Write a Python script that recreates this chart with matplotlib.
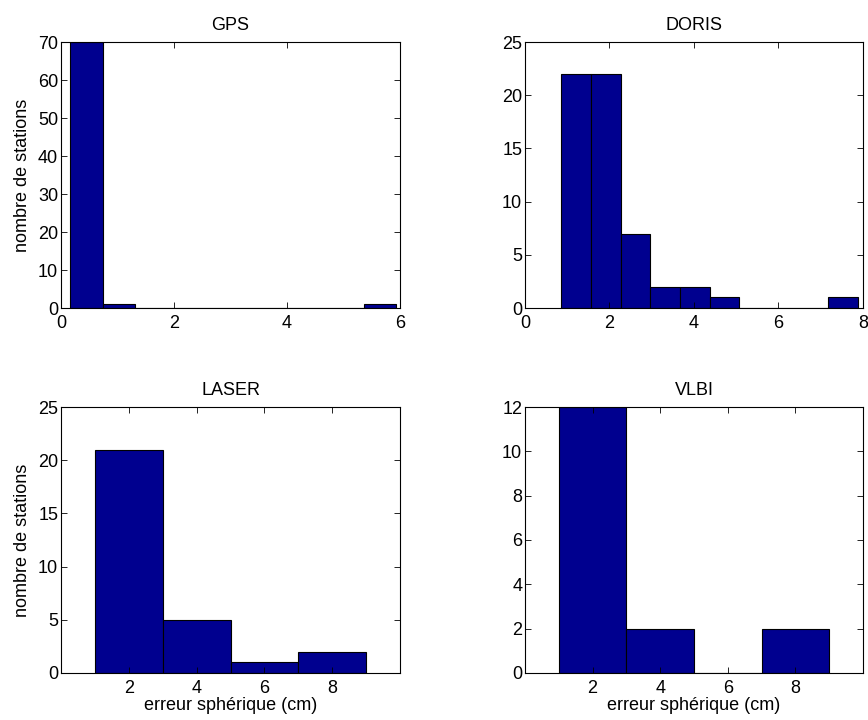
import numpy as np
import matplotlib
matplotlib.use("Agg")
import matplotlib.pyplot as plt

plt.rcParams["font.family"] = ["Liberation Sans", "DejaVu Sans"]
plt.rcParams["font.size"] = 13

# histogram counts
gps_counts = [70, 1, 0, 0, 0, 0, 0, 0, 0, 1]
gps_range = (0.16, 5.93)

doris_counts = [22, 22, 7, 2, 2, 1, 0, 0, 0, 1]
doris_range = (0.86, 7.88)

laser_centers = [2, 4, 6, 8]
laser_counts = [21, 5, 1, 2]

vlbi_centers = [2, 4, 6, 8]
vlbi_counts = [12, 2, 0, 2]

bar_color = "#00008F"

fig = plt.figure(figsize=(8.68, 7.2), dpi=100)
ax_gps = fig.add_axes([0.0703, 0.5722, 0.3906, 0.3694])
ax_doris = fig.add_axes([0.6048, 0.5722, 0.3894, 0.3694])
ax_laser = fig.add_axes([0.0703, 0.0653, 0.3906, 0.3694])
ax_vlbi = fig.add_axes([0.6048, 0.0653, 0.3894, 0.3694])


def hist_bars(ax, counts, lo, hi):
    edges = np.linspace(lo, hi, len(counts) + 1)
    ax.bar(edges[:-1], counts, width=np.diff(edges), align="edge",
           color=bar_color, edgecolor="black", linewidth=0.8)


hist_bars(ax_gps, gps_counts, *gps_range)
hist_bars(ax_doris, doris_counts, *doris_range)
ax_laser.bar(laser_centers, laser_counts, width=2, color=bar_color,
             edgecolor="black", linewidth=0.8)
ax_vlbi.bar(vlbi_centers, vlbi_counts, width=2, color=bar_color,
            edgecolor="black", linewidth=0.8)

ax_gps.set_xlim(0, 6)
ax_gps.set_ylim(0, 70)
ax_gps.set_xticks([0, 2, 4, 6])
ax_gps.set_yticks(range(0, 71, 10))
ax_gps.set_title("GPS")
ax_gps.set_ylabel("nombre de stations")

ax_doris.set_xlim(0, 8)
ax_doris.set_ylim(0, 25)
ax_doris.set_xticks([0, 2, 4, 6, 8])
ax_doris.set_yticks(range(0, 26, 5))
ax_doris.set_title("DORIS")

ax_laser.set_xlim(0, 10)
ax_laser.set_ylim(0, 25)
ax_laser.set_xticks([2, 4, 6, 8])
ax_laser.set_yticks(range(0, 26, 5))
ax_laser.set_title("LASER")
ax_laser.set_ylabel("nombre de stations")
ax_laser.set_xlabel("erreur sphérique (cm)", labelpad=0)

ax_vlbi.set_xlim(0, 10)
ax_vlbi.set_ylim(0, 12)
ax_vlbi.set_xticks([2, 4, 6, 8])
ax_vlbi.set_yticks(range(0, 13, 2))
ax_vlbi.set_title("VLBI")
ax_vlbi.set_xlabel("erreur sphérique (cm)", labelpad=0)

for ax in [ax_gps, ax_doris, ax_laser, ax_vlbi]:
    ax.tick_params(direction="in", top=True, right=True, length=4, width=0.6,
                   labelsize=13)
    ax.tick_params(axis="x", pad=5)
    ax.tick_params(axis="y", pad=2)
    ax.yaxis.labelpad = 5
    for s in ax.spines.values():
        s.set_linewidth(0.8)
    ax.set_title(ax.get_title(), fontsize=13, pad=9)

fig.savefig("out.png", dpi=100)
